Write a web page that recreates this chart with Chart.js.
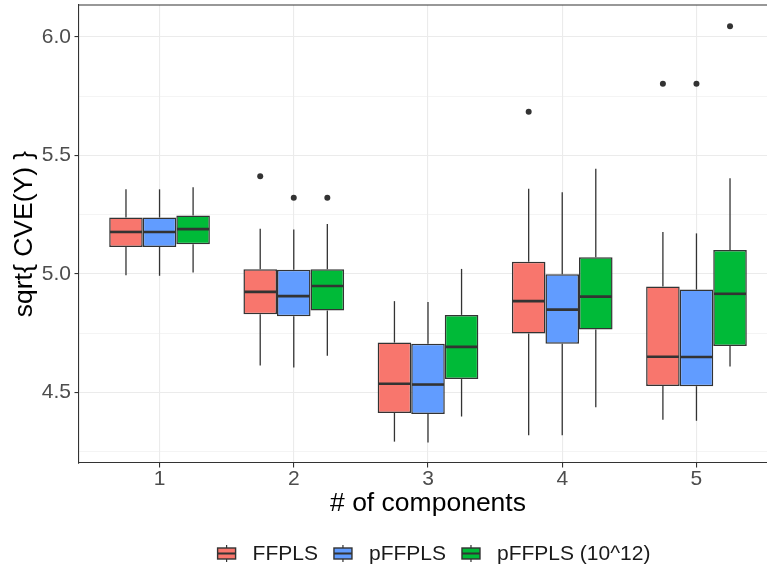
<!DOCTYPE html>
<html lang="en">
  <head>
    <meta charset="UTF-8" />
    <meta name="viewport" content="width=device-width, initial-scale=1.0" />
    <script src="https://cdn.jsdelivr.net/npm/chart.js"></script>
    <title>CVE boxplots</title>
    <style>
      html, body { margin: 0; padding: 0; overflow: hidden; background: #fff; }
      canvas { display: block; }
    </style>
  </head>
  <body>
    <canvas id="myChart" width="777" height="569"></canvas>
    <script>
      // data
      var components = [1, 2, 3, 4, 5];
      var seriesNames = ["FFPLS", "pFFPLS", "pFFPLS (10^12)"];
      var seriesColors = ["#F8766D", "#619CFF", "#00BA38"];

      var ffplsLow = [4.994, 4.613, 4.292, 4.319, 4.384];
      var ffplsQ1 = [5.114, 4.83, 4.413, 4.748, 4.527];
      var ffplsMed = [5.177, 4.924, 4.536, 4.885, 4.65];
      var ffplsQ3 = [5.238, 5.02, 4.71, 5.051, 4.947];
      var ffplsHigh = [5.357, 5.191, 4.885, 5.359, 5.177];
      var ffplsOut = [[], [5.412], [], [5.684], [5.803]];

      var pffplsLow = [4.992, 4.605, 4.288, 4.319, 4.38];
      var pffplsQ1 = [5.114, 4.821, 4.409, 4.705, 4.526];
      var pffplsMed = [5.177, 4.906, 4.533, 4.849, 4.649];
      var pffplsQ3 = [5.238, 5.017, 4.705, 4.999, 4.934];
      var pffplsHigh = [5.357, 5.187, 4.881, 5.345, 5.171];
      var pffplsOut = [[], [5.321], [], [], [5.803]];

      var pffpls12Low = [5.006, 4.654, 4.398, 4.437, 4.609];
      var pffpls12Q1 = [5.125, 4.845, 4.556, 4.765, 4.696];
      var pffpls12Med = [5.189, 4.949, 4.692, 4.904, 4.916];
      var pffpls12Q3 = [5.246, 5.02, 4.827, 5.07, 5.101];
      var pffpls12High = [5.366, 5.211, 5.021, 5.444, 5.404];
      var pffpls12Out = [[], [5.321], [], [], [6.045]];

      var yMajorTicks = [4.5, 5.0, 5.5, 6.0];
      var yMinorTicks = [4.25, 4.75, 5.25, 5.75];

      var stats = [
        { low: ffplsLow, q1: ffplsQ1, med: ffplsMed, q3: ffplsQ3, high: ffplsHigh, out: ffplsOut },
        { low: pffplsLow, q1: pffplsQ1, med: pffplsMed, q3: pffplsQ3, high: pffplsHigh, out: pffplsOut },
        { low: pffpls12Low, q1: pffpls12Q1, med: pffpls12Med, q3: pffpls12Q3, high: pffpls12High, out: pffpls12Out },
      ];

      var DARK = "#333333";
      var GRID = "#EBEBEB";
      Chart.defaults.font.family = "'Liberation Sans', Arial, sans-serif";

      function isMajor(v) {
        return Math.abs(v * 2 - Math.round(v * 2)) < 1e-6;
      }

      function line(ctx, x1, y1, x2, y2) {
        ctx.beginPath();
        ctx.moveTo(x1, y1);
        ctx.lineTo(x2, y2);
        ctx.stroke();
      }

      // whiskers under the boxes, medians and outliers on top
      var boxParts = {
        id: "boxParts",
        beforeDatasetsDraw(chart) {
          var ctx = chart.ctx, y = chart.scales.y;
          ctx.save();
          ctx.strokeStyle = DARK;
          ctx.lineWidth = 1.3;
          stats.forEach(function (s, i) {
            chart.getDatasetMeta(i).data.forEach(function (bar, j) {
              line(ctx, bar.x, y.getPixelForValue(s.high[j]), bar.x, y.getPixelForValue(s.q3[j]));
              line(ctx, bar.x, y.getPixelForValue(s.q1[j]), bar.x, y.getPixelForValue(s.low[j]));
            });
          });
          ctx.restore();
        },
        afterDatasetsDraw(chart) {
          var ctx = chart.ctx, y = chart.scales.y, area = chart.chartArea;
          ctx.save();
          ctx.strokeStyle = DARK;
          ctx.fillStyle = DARK;
          stats.forEach(function (s, i) {
            chart.getDatasetMeta(i).data.forEach(function (bar, j) {
              var half = bar.width / 2 - 0.8;
              var ym = y.getPixelForValue(s.med[j]);
              ctx.lineWidth = 2.6;
              line(ctx, bar.x - half, ym, bar.x + half, ym);
              s.out[j].forEach(function (v) {
                ctx.beginPath();
                ctx.arc(bar.x, y.getPixelForValue(v), 3, 0, Math.PI * 2);
                ctx.fill();
              });
            });
          });
          // panel border on top
          ctx.lineWidth = 1.1;
          line(ctx, area.left, area.top, area.right, area.top);
          ctx.restore();
        },
      };

      var bottomLegend = {
        id: "bottomLegend",
        afterDraw(chart) {
          var ctx = chart.ctx;
          var cx = 434, cy = 553.5;
          var keyW = 18, keyH = 11, textGap = 17, itemGap = 16;
          ctx.save();
          ctx.font = "21px 'Liberation Sans', Arial, sans-serif";
          var widths = seriesNames.map(function (n) { return ctx.measureText(n).width; });
          var total = 0;
          widths.forEach(function (w) { total += keyW + textGap + w; });
          total += itemGap * (seriesNames.length - 1);
          var x = cx - total / 2;
          seriesNames.forEach(function (name, i) {
            var kx = x + keyW / 2;
            ctx.strokeStyle = DARK;
            ctx.lineWidth = 1.2;
            line(ctx, kx, cy - 8.5, kx, cy + 8.5);
            ctx.fillStyle = seriesColors[i];
            ctx.fillRect(x, cy - keyH / 2, keyW, keyH);
            ctx.lineWidth = 1.4;
            ctx.strokeRect(x, cy - keyH / 2, keyW, keyH);
            ctx.lineWidth = 2;
            line(ctx, x, cy, x + keyW, cy);
            ctx.fillStyle = "#1A1A1A";
            ctx.textBaseline = "middle";
            ctx.textAlign = "left";
            ctx.fillText(name, x + keyW + textGap, cy + 0.5);
            x += keyW + textGap + widths[i] + itemGap;
          });
          ctx.restore();
        },
      };

      var datasets = stats.map(function (s, i) {
        return {
          label: seriesNames[i],
          data: components.map(function (c, j) { return { x: c, y: [s.q1[j], s.q3[j]] }; }),
          backgroundColor: seriesColors[i],
          borderColor: DARK,
          borderWidth: 1.5,
          borderSkipped: false,
          categoryPercentage: 0.75,
          barPercentage: 1,
        };
      });

      var ctx = document.getElementById("myChart");
      var myChart = new Chart(ctx, {
        type: "bar",
        data: { datasets: datasets },
        plugins: [boxParts, bottomLegend],
        options: {
          responsive: false,
          animation: false,
          layout: { padding: { top: 5, left: 0, right: 0, bottom: 46 } },
          plugins: { legend: { display: false }, tooltip: { enabled: false } },
          scales: {
            x: {
              type: "linear",
              min: 0.4,
              max: 5.6,
              offset: false,
              afterBuildTicks: function (scale) {
                scale.ticks = components.map(function (c) { return { value: c }; });
              },
              afterFit: function (scale) {
                scale.height = 60;
                scale.paddingLeft = 0;
                scale.paddingRight = 0;
              },
              ticks: {
                autoSkip: false,
                padding: 1.5,
                color: "#4D4D4D",
                font: { size: 21, lineHeight: 1 },
                callback: function (v) { return String(v); },
              },
              grid: {
                offset: false,
                color: GRID,
                lineWidth: 1.1,
                tickLength: 4.5,
                tickColor: DARK,
                tickWidth: 1.1,
              },
              border: { display: true, color: DARK, width: 1.1 },
              title: {
                display: true,
                text: "# of components",
                color: "#000",
                font: { size: 26.5, lineHeight: 1 },
                padding: { top: 0, bottom: 6 },
              },
            },
            y: {
              min: 4.2018,
              max: 6.135,
              afterBuildTicks: function (scale) {
                scale.ticks = yMajorTicks.concat(yMinorTicks)
                  .sort(function (a, b) { return a - b; })
                  .map(function (v) { return { value: v }; });
              },
              afterFit: function (scale) {
                scale.width = 79;
                scale.paddingTop = 0;
                scale.paddingBottom = 0;
              },
              ticks: {
                autoSkip: false,
                padding: 3.5,
                color: "#4D4D4D",
                font: { size: 21, lineHeight: 1 },
                callback: function (v) { return isMajor(v) ? v.toFixed(1) : ""; },
              },
              grid: {
                color: GRID,
                lineWidth: function (c) { return c.tick && isMajor(c.tick.value) ? 1.1 : 0.55; },
                tickLength: 4.5,
                tickWidth: 1.1,
                tickColor: function (c) { return c.tick && isMajor(c.tick.value) ? DARK : "rgba(0,0,0,0)"; },
              },
              border: { display: true, color: DARK, width: 1.1 },
              title: {
                display: true,
                text: "sqrt{ CVE(Y) }",
                color: "#000",
                font: { size: 26.5, lineHeight: 1 },
                padding: { top: 11, bottom: 0 },
              },
            },
          },
        },
      });
    </script>
  </body>
</html>
